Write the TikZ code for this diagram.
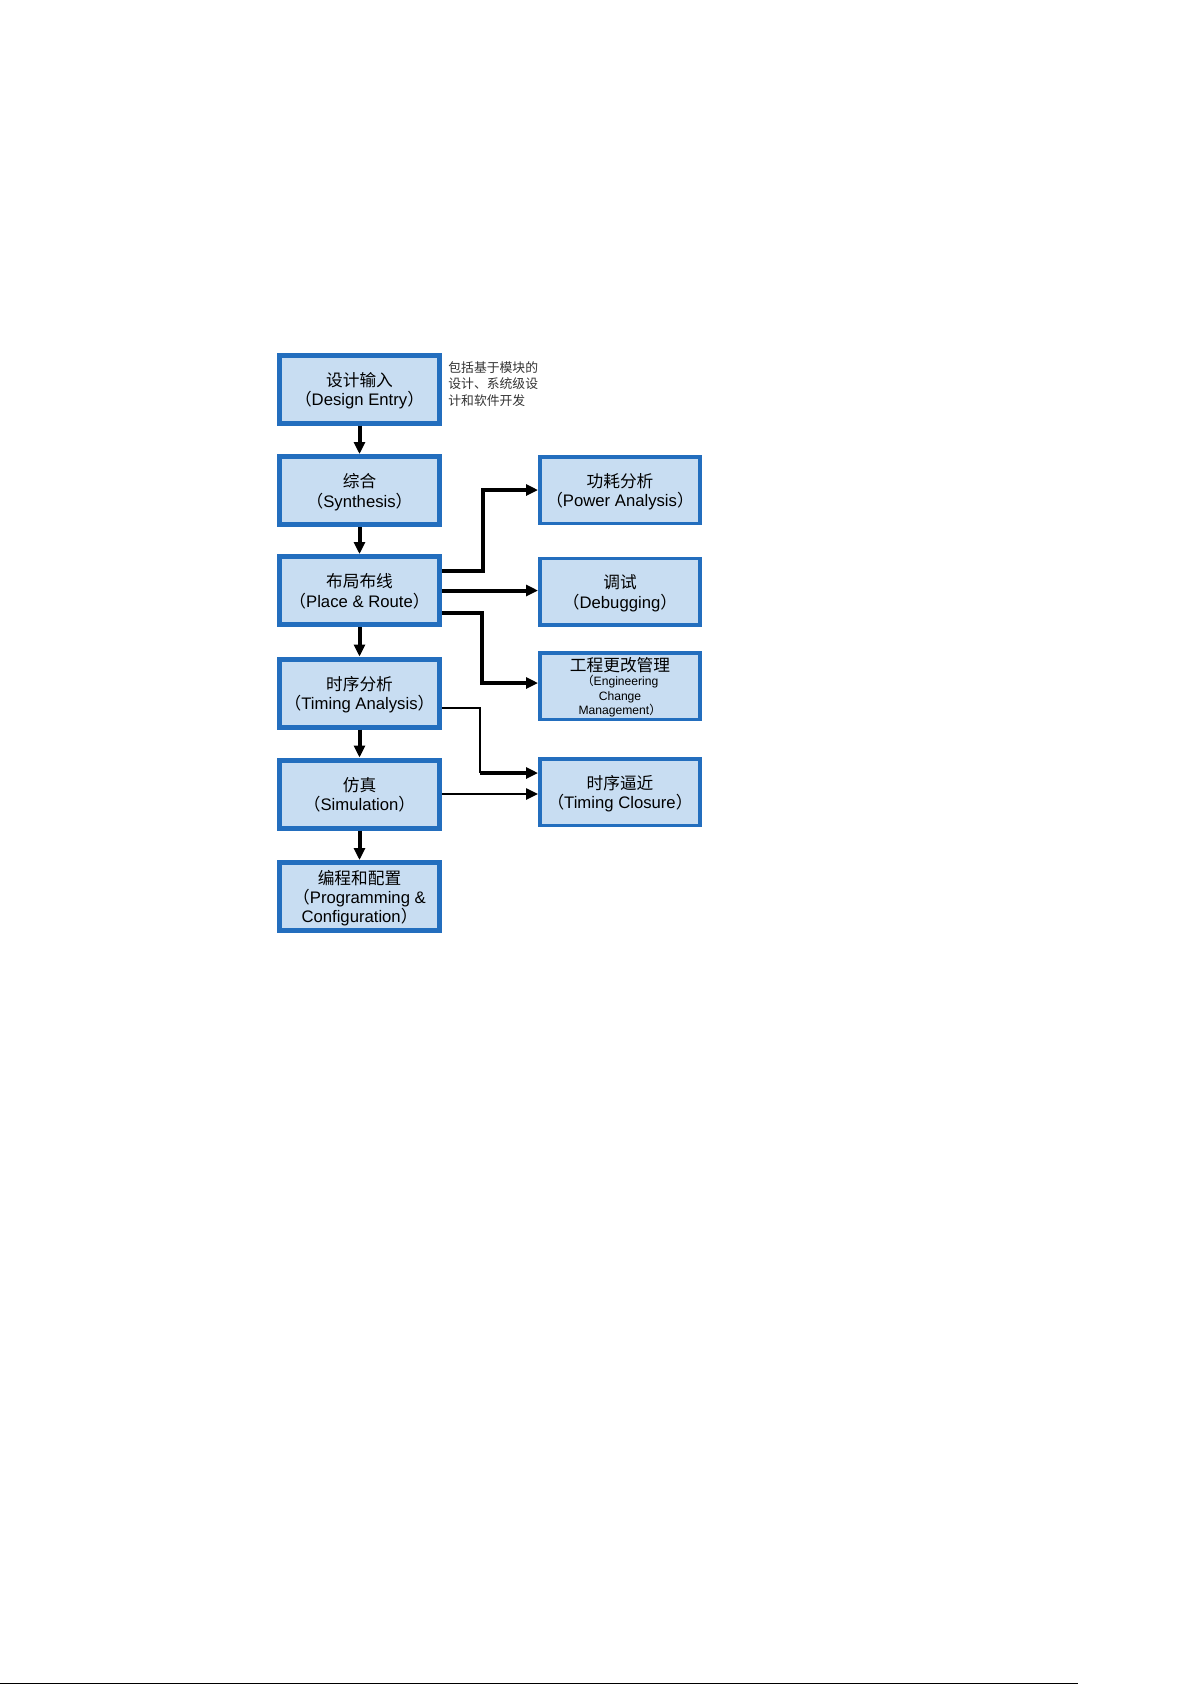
\documentclass[tikz,border=0pt]{standalone}
\usepackage{fontspec}
\setmainfont{Liberation Sans}
\newfontfamily\cjk{Noto Sans CJK SC}
\usepackage{xcolor}
\usepackage{tikz}
\usetikzlibrary{arrows.meta}

\definecolor{boxblue}{RGB}{35,110,190}
\definecolor{boxfill}{RGB}{200,221,242}
\newcommand{\lp}{{\cjk （}}
\newcommand{\rp}{{\cjk ）}}

\begin{document}
\begin{tikzpicture}[x=0.02cm, y=-0.02cm,
  stage/.style={draw=boxblue, fill=boxfill, line width=0.1cm, minimum width=3.2cm,
    minimum height=1.36cm, align=center, inner sep=1pt, text depth=0pt,
    font=\fontsize{9.5}{10.9}\selectfont},
  side/.style={stage, line width=0.07cm, minimum width=3.21cm, minimum height=1.33cm},
  flow/.style={line width=0.08cm, -{Triangle[length=0.24cm, width=0.22cm]}},
  thinflow/.style={flow, line width=0.05cm}]
  % Page frame
  \useasboundingbox (0,0) rectangle (1192,1685);
  \fill[white] (0,0) rectangle (1192,1685);

  % Main flow, top to bottom
  \node[stage] (entry)  at (359.5,389)   {{\cjk 设计输入}\\\lp Design Entry\rp};
  \node[stage] (synth)  at (359.5,490.5) {{\cjk 综合}\\\lp Synthesis\rp};
  \node[stage] (place)  at (359.5,590.5) {{\cjk 布局布线}\\\lp Place \& Route\rp};
  \node[stage] (timing) at (359.5,693)   {{\cjk 时序分析}\\\lp Timing Analysis\rp};
  \node[stage] (sim)    at (359.5,794)   {{\cjk 仿真}\\\lp Simulation\rp};
  \node[stage] (prog)   at (359.5,896.5) {{\cjk 编程和配置}\\\lp Programming \&\\Configuration\rp};

  % Side steps
  \node[side] (power)   at (620,490)   {{\cjk 功耗分析}\\\lp Power Analysis\rp};
  \node[side] (debug)   at (620,591.5) {{\cjk 调试}\\\lp Debugging\rp};
  \node[side, font=\fontsize{6.9}{8.3}\selectfont] (ecm) at (620,686)
    {{\cjk\fontsize{9.5}{8.3}\selectfont 工程更改管理}\\\lp Engineering\\Change\\Management\rp};
  \node[side] (closure) at (620,792)   {{\cjk 时序逼近}\\\lp Timing Closure\rp};

  % Note next to design entry
  \node[anchor=north west, inner sep=0pt, align=left, font=\cjk\fontsize{7.3}{9.4}\selectfont, text=black!80]
    (note) at (448,361) {包括基于模块的\\设计、系统级设\\计和软件开发};

  % Vertical arrows
  \draw[flow] (entry) -- (synth);
  \draw[flow] (synth) -- (place);
  \draw[flow] (place) -- (timing);
  \draw[flow] (timing) -- (sim);
  \draw[flow] (sim) -- (prog);

  % Bends of the side arrows
  \coordinate (bendA) at (483,490);
  \coordinate (bendB) at (482,683);
  \coordinate (bendC) at (480,773);

  % Arrows out of place and route
  \draw[flow] ([yshift=0.39cm]place.east) -| (bendA) -- (power.west);
  \draw[flow] (place.east) -- (place.east -| debug.west);
  \draw[flow] ([yshift=-0.44cm]place.east) -| (bendB) -- (bendB -| ecm.west);

  % Arrows into timing closure
  \draw[line width=0.05cm] ([yshift=-0.3cm]timing.east) -| (bendC);
  \draw[flow] (bendC) -- (bendC -| closure.west);
  \draw[thinflow] (sim.east) -- (sim.east -| closure.west);

  % Rule at the foot of the page
  \coordinate (ruleL) at (0,1683.5);
  \coordinate (ruleR) at (1078,1683.5);
  \draw[line width=0.03cm] (ruleL) -- (ruleR);
\end{tikzpicture}
\end{document}
